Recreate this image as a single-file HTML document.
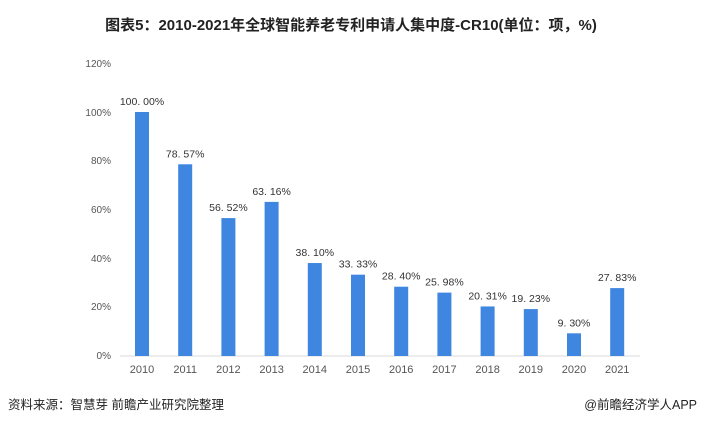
<!DOCTYPE html>
<html><head><meta charset="utf-8"><style>
body{margin:0;background:#fff;width:703px;height:425px;overflow:hidden}
svg text{font-family:"Liberation Sans","Noto Sans CJK SC",sans-serif}
</style></head><body>
<svg width="703" height="425" viewBox="0 0 703 425">
<text x="351" y="30" text-anchor="middle" font-size="15" font-weight="bold" fill="#222">图表5：2010-2021年全球智能养老专利申请人集中度-CR10(单位：项，%)</text>
<g font-size="10" fill="#555" text-anchor="end">
<text x="111" y="359">0%</text>
<text x="111" y="310">20%</text>
<text x="111" y="262">40%</text>
<text x="111" y="213">60%</text>
<text x="111" y="164">80%</text>
<text x="111" y="116">100%</text>
<text x="111" y="67">120%</text>
</g>
<line x1="120" y1="356" x2="640" y2="356" stroke="#d9d9d9" stroke-width="1"/>
<g fill="#3f86e0" id="bars"></g>
<g id="lab" font-size="10.5" fill="#333" text-anchor="middle"></g>
<g id="yr" font-size="11" fill="#555" text-anchor="middle"></g>
<text x="8" y="409" font-size="12.5" fill="#222">资料来源：智慧芽 前瞻产业研究院整理</text>
<text x="697" y="409" font-size="12.5" fill="#222" text-anchor="end">@前瞻经济学人APP</text>
<script>
var v=[100,78.57,56.52,63.16,38.10,33.33,28.40,25.98,20.31,19.23,9.30,27.83];
var b=document.getElementById('bars'),l=document.getElementById('lab'),y=document.getElementById('yr'),ns='http://www.w3.org/2000/svg';
v.forEach(function(d,i){var cx=142+43.2*i,h=d*2.44,t=356-h;
var r=document.createElementNS(ns,'rect');r.setAttribute('x',cx-7);r.setAttribute('y',t);r.setAttribute('width',14);r.setAttribute('height',h);b.appendChild(r);
var a=document.createElementNS(ns,'text');a.setAttribute('x',cx);a.setAttribute('y',t-7);a.textContent=d.toFixed(2).replace('.','. ')+'%';l.appendChild(a);
var c=document.createElementNS(ns,'text');c.setAttribute('x',cx);c.setAttribute('y',373);c.textContent=2010+i;y.appendChild(c);});
</script>
</svg>
</body></html>
